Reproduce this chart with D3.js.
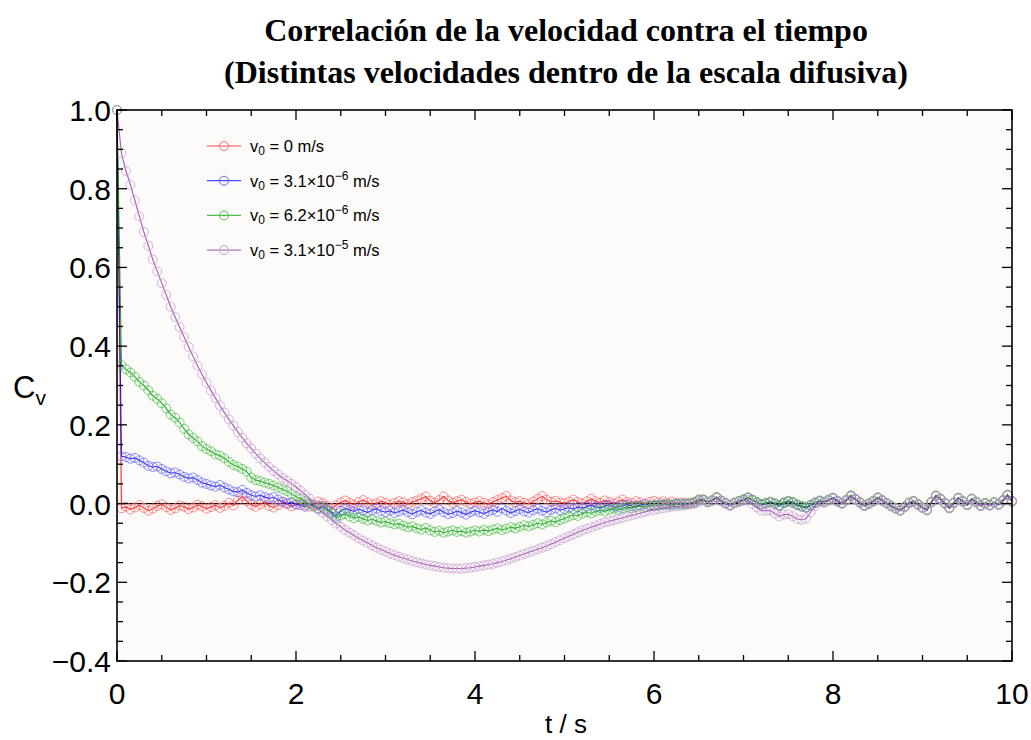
<!DOCTYPE html>
<html>
<head>
<meta charset="utf-8">
<script src="https://cdn.jsdelivr.net/npm/d3@7"></script>
<style>
  html, body { margin: 0; padding: 0; background: #ffffff; }
  svg { display: block; }
</style>
</head>
<body>
<svg id="chart" width="1031" height="740"></svg>
<script>
// Velocity autocorrelation C_v(t), sampled every 0.05 s from 0 to 10 s
const sampleStep = 0.05;

const seriesNames = ["v0_0", "v0_3.1e-6", "v0_6.2e-6", "v0_3.1e-5"];

const redValues = [1.0,
  -0.012, -0.008, -0.015, -0.010, -0.004, -0.011, -0.018, -0.013, -0.006, -0.002, -0.009, -0.016, -0.012, -0.005, -0.008, -0.014, -0.010, -0.003, -0.007, -0.013,
  -0.009, -0.004, -0.011, -0.006, 0.002, -0.005, 0.008, 0.018, 0.006, -0.003, -0.008, -0.002, 0.004, -0.006, -0.010, -0.004, 0.003, -0.002, -0.007, -0.003,
  0.002, -0.004, -0.008, -0.002, 0.005, 0.001, -0.006, -0.012, -0.004, 0.003, 0.008, 0.002, -0.003, 0.004, 0.009, 0.003, -0.002, 0.001, 0.006, 0.002,
  -0.003, 0.002, 0.006, 0.003, -0.002, 0.004, 0.008, 0.012, 0.018, 0.007, 0.002, 0.009, 0.018, 0.008, 0.002, 0.006, 0.010, 0.004, -0.001, 0.003,
  0.006, 0.002, -0.002, 0.004, 0.009, 0.014, 0.019, 0.008, 0.003, 0.006, 0.002, -0.001, 0.005, 0.012, 0.019, 0.010, 0.004, 0.007, 0.003, 0.001,
  0.005, 0.010, 0.004, 0.000, 0.006, 0.012, 0.006, 0.002, 0.008, 0.004, 0.000, 0.005, 0.010, 0.004, 0.001, 0.006, 0.003, -0.001, 0.004, 0.007,
  0.003, 0.006, 0.002, 0.005, 0.001, 0.003, 0.000, 0.002, 0.004, 0.011,
  0.010, 0.004, 0.008, 0.016, 0.007, 0.001, -0.004, 0.002, 0.006, 0.010,
  0.015, 0.009, 0.003, -0.002, 0.001, 0.004, 0.000, -0.005, 0.002, 0.006,
  0.003, -0.003, -0.007, -0.010, -0.004, 0.002, 0.007, 0.004, 0.009, 0.014,
  0.006, 0.001, 0.009, 0.020, 0.011, 0.003, -0.005, 0.000, 0.006, 0.015,
  0.008, 0.001, -0.006, -0.012, -0.017, -0.008, 0.002, 0.006, -0.002, -0.010,
  -0.016, 0.004, 0.020, 0.012, 0.001, -0.011, 0.002, 0.014, 0.006, -0.003,
  0.012, 0.004, -0.005, 0.001, -0.004, 0.003, -0.002, 0.008, 0.022, 0.006
];

const blueValues = [1.0,
  0.120, 0.118, 0.114, 0.116, 0.110, 0.104, 0.096, 0.093, 0.094, 0.088, 0.082, 0.077, 0.079, 0.074, 0.068, 0.064, 0.066, 0.060, 0.053, 0.050,
  0.046, 0.043, 0.047, 0.041, 0.036, 0.031, 0.029, 0.035, 0.027, 0.021, 0.018, 0.021, 0.017, 0.013, 0.016, 0.010, 0.005, 0.001, 0.003, -0.002,
  -0.004, -0.008, 0.001, -0.005, -0.012, -0.006, -0.014, -0.022, -0.033, -0.018, -0.012, -0.016, -0.020, -0.014, -0.018, -0.023, -0.017, -0.013, -0.019, -0.022,
  -0.018, -0.024, -0.020, -0.016, -0.022, -0.027, -0.021, -0.017, -0.023, -0.026, -0.020, -0.015, -0.022, -0.027, -0.024, -0.019, -0.023, -0.028, -0.022, -0.018,
  -0.022, -0.026, -0.020, -0.016, -0.021, -0.012, -0.018, -0.024, -0.019, -0.014, -0.020, -0.023, -0.017, -0.013, -0.018, -0.022, -0.016, -0.012, -0.017, -0.014,
  -0.010, -0.014, -0.009, -0.012, -0.008, -0.004, -0.009, -0.011, -0.006, -0.003, -0.008, -0.010, -0.005, -0.002, -0.006, -0.008, -0.004, -0.001, -0.005, -0.006,
  -0.003, -0.001, -0.004, -0.002, 0.000, -0.002, 0.001, -0.001, 0.002, 0.008,
  0.009, 0.003, 0.007, 0.015, 0.008, 0.000, -0.005, 0.001, 0.005, 0.009,
  0.014, 0.010, 0.002, -0.003, 0.000, 0.003, -0.001, -0.006, 0.001, 0.005,
  0.002, -0.004, -0.008, -0.011, -0.005, 0.001, 0.006, 0.003, 0.008, 0.015,
  0.007, 0.000, 0.008, 0.019, 0.012, 0.002, -0.006, -0.001, 0.005, 0.014,
  0.009, 0.000, -0.007, -0.013, -0.018, -0.009, 0.001, 0.005, -0.003, -0.011,
  -0.017, 0.003, 0.019, 0.013, 0.000, -0.012, 0.001, 0.015, 0.005, -0.004,
  0.011, 0.003, -0.006, 0.000, -0.005, 0.002, -0.003, 0.007, 0.021, 0.007
];

const greenValues = [1.0,
  0.352, 0.341, 0.333, 0.322, 0.309, 0.300, 0.288, 0.274, 0.266, 0.255, 0.242, 0.226, 0.218, 0.206, 0.190, 0.176, 0.167, 0.158, 0.146, 0.139,
  0.133, 0.125, 0.122, 0.115, 0.106, 0.098, 0.094, 0.088, 0.081, 0.066, 0.060, 0.057, 0.053, 0.050, 0.046, 0.041, 0.036, 0.032, 0.024, 0.018,
  0.012, 0.006, -0.002, -0.008, -0.014, -0.010, -0.018, -0.026, -0.038, -0.030, -0.027, -0.033, -0.037, -0.034, -0.039, -0.043, -0.040, -0.044, -0.048, -0.046,
  -0.050, -0.053, -0.051, -0.056, -0.060, -0.058, -0.063, -0.066, -0.062, -0.068, -0.072, -0.069, -0.074, -0.071, -0.068, -0.072, -0.070, -0.074, -0.071, -0.068,
  -0.071, -0.067, -0.070, -0.066, -0.063, -0.067, -0.064, -0.060, -0.063, -0.059, -0.055, -0.058, -0.054, -0.050, -0.053, -0.048, -0.044, -0.047, -0.042, -0.038,
  -0.033, -0.029, -0.031, -0.026, -0.022, -0.025, -0.020, -0.017, -0.020, -0.016, -0.013, -0.016, -0.012, -0.009, -0.012, -0.008, -0.006, -0.009, -0.005, -0.004,
  -0.006, -0.003, -0.001, -0.004, -0.002, 0.000, -0.002, 0.001, 0.003, 0.009,
  0.011, 0.005, 0.009, 0.017, 0.006, 0.002, -0.003, 0.003, 0.007, 0.011,
  0.016, 0.008, 0.004, -0.001, 0.002, 0.005, 0.001, -0.004, 0.003, 0.007,
  0.004, -0.002, -0.006, -0.009, -0.003, 0.003, 0.008, 0.005, 0.010, 0.013,
  0.005, 0.002, 0.010, 0.021, 0.010, 0.004, -0.004, 0.001, 0.007, 0.016,
  0.007, 0.002, -0.005, -0.011, -0.016, -0.007, 0.003, 0.007, -0.001, -0.009,
  -0.015, 0.005, 0.021, 0.011, 0.002, -0.010, 0.003, 0.013, 0.007, -0.002,
  0.013, 0.005, -0.004, 0.002, -0.003, 0.004, -0.001, 0.009, 0.023, 0.005
];

const purpleValues = [1.0,
  0.890, 0.845, 0.810, 0.770, 0.730, 0.690, 0.655, 0.620, 0.590, 0.560, 0.530, 0.500, 0.474, 0.448, 0.423, 0.398, 0.374, 0.350, 0.328, 0.307,
  0.287, 0.268, 0.249, 0.231, 0.214, 0.198, 0.182, 0.167, 0.153, 0.140, 0.127, 0.115, 0.104, 0.093, 0.083, 0.074, 0.065, 0.058, 0.050, 0.042,
  0.033, 0.023, 0.013, -0.006, -0.015, -0.024, -0.033, -0.042, -0.051, -0.059, -0.067, -0.074, -0.081, -0.088, -0.094, -0.100, -0.106, -0.112, -0.117, -0.122,
  -0.127, -0.131, -0.135, -0.139, -0.142, -0.146, -0.149, -0.152, -0.155, -0.157, -0.159, -0.161, -0.163, -0.164, -0.165, -0.165, -0.165, -0.164, -0.163, -0.161,
  -0.159, -0.157, -0.155, -0.153, -0.150, -0.147, -0.144, -0.140, -0.136, -0.132, -0.128, -0.124, -0.120, -0.116, -0.112, -0.108, -0.103, -0.098, -0.093, -0.088,
  -0.083, -0.078, -0.073, -0.068, -0.064, -0.060, -0.056, -0.052, -0.048, -0.045, -0.042, -0.039, -0.036, -0.033, -0.030, -0.027, -0.024, -0.021, -0.018, -0.016,
  -0.014, -0.012, -0.010, -0.008, -0.007, -0.006, -0.004, -0.002, 0.000, 0.004,
  0.008, 0.003, 0.007, 0.014, 0.006, 0.000, -0.005, 0.001, 0.004, 0.007,
  0.009, -0.001, -0.010, -0.018, -0.018, -0.018, -0.025, -0.033, -0.028, -0.027,
  -0.032, -0.039, -0.041, -0.038, -0.022, -0.006, 0.005, 0.003, 0.008, 0.013,
  0.005, 0.000, 0.008, 0.018, 0.010, 0.002, -0.006, -0.001, 0.005, 0.014,
  0.007, 0.000, -0.007, -0.013, -0.018, -0.009, 0.001, 0.005, -0.003, -0.011,
  -0.017, 0.003, 0.019, 0.011, 0.000, -0.012, 0.001, 0.013, 0.005, -0.004,
  0.011, 0.003, -0.006, 0.000, -0.005, 0.002, -0.003, 0.007, 0.021, 0.005
];

// legend text pieces: coefficient and power of ten of v0
const legendLabels = [
  { mant: " = 0", exp: null },
  { mant: " = 3.1\u00d710", exp: "\u22126" },
  { mant: " = 6.2\u00d710", exp: "\u22126" },
  { mant: " = 3.1\u00d710", exp: "\u22125" }
];

const xTickLabels = [0, 2, 4, 6, 8, 10];
const yTickLabels = [-0.4, -0.2, 0.0, 0.2, 0.4, 0.6, 0.8, 1.0];

const titleLines = [
  "Correlaci\u00f3n de la velocidad contra el tiempo",
  "(Distintas velocidades dentro de la escala difusiva)"
];

const seriesColors = ["#ff0000", "#0000ff", "#00a000", "#9a3fab"];
const circleColors = ["#ff6a6a", "#6a6aff", "#4cc04c", "#c79bd3"];

// ---- layout ----
const svg = d3.select("#chart");
const plot = { left: 117, right: 1012, top: 110, bottom: 661 };

const x = d3.scaleLinear().domain([0, 10]).range([plot.left, plot.right]);
const y = d3.scaleLinear().domain([-0.4, 1.0]).range([plot.bottom, plot.top]);

const allSeries = [redValues, blueValues, greenValues, purpleValues].map((vals, k) => ({
  name: seriesNames[k],
  color: seriesColors[k],
  circle: circleColors[k],
  points: vals.map((v, i) => ({ t: i * sampleStep, c: v }))
}));

// plot background
svg.append("rect")
  .attr("x", plot.left).attr("y", plot.top)
  .attr("width", plot.right - plot.left).attr("height", plot.bottom - plot.top)
  .attr("fill", "#fcfbf9");

// zero reference line
svg.append("line")
  .attr("x1", plot.left).attr("x2", plot.right)
  .attr("y1", y(0)).attr("y2", y(0))
  .attr("stroke", "#000").attr("stroke-width", 1.3);

const line = d3.line().x(d => x(d.t)).y(d => y(d.c));

const seriesG = svg.append("g");
allSeries.forEach(s => {
  const g = seriesG.append("g");
  g.append("path")
    .datum(s.points)
    .attr("d", line)
    .attr("fill", "none")
    .attr("stroke", s.color)
    .attr("stroke-opacity", 0.85)
    .attr("stroke-width", 1.1);
  g.selectAll("circle")
    .data(s.points)
    .join("circle")
    .attr("cx", d => x(d.t))
    .attr("cy", d => y(d.c))
    .attr("r", 4.5)
    .attr("fill", "none")
    .attr("stroke", s.circle)
    .attr("stroke-opacity", 0.75)
    .attr("stroke-width", 1);
});

// frame
svg.append("rect")
  .attr("x", plot.left).attr("y", plot.top)
  .attr("width", plot.right - plot.left).attr("height", plot.bottom - plot.top)
  .attr("fill", "none").attr("stroke", "#000").attr("stroke-width", 1.6);

// ticks on all four sides, pointing inward
const ticksG = svg.append("g").attr("stroke", "#000").attr("stroke-width", 1.3);
const majorLen = 10, minorLen = 6;
const xMinor = d3.range(0, 10.001, 0.5);
xMinor.forEach(t => {
  const major = Math.abs(t / 2 - Math.round(t / 2)) < 1e-6;
  const L = major ? majorLen : minorLen;
  ticksG.append("line").attr("x1", x(t)).attr("x2", x(t)).attr("y1", plot.bottom).attr("y2", plot.bottom - L);
  ticksG.append("line").attr("x1", x(t)).attr("x2", x(t)).attr("y1", plot.top).attr("y2", plot.top + L);
});
const yMinor = d3.range(-0.4, 1.0001, 0.05);
yMinor.forEach(v => {
  const major = Math.abs(v / 0.2 - Math.round(v / 0.2)) < 1e-6;
  const L = major ? majorLen : minorLen;
  ticksG.append("line").attr("x1", plot.left).attr("x2", plot.left + L).attr("y1", y(v)).attr("y2", y(v));
  ticksG.append("line").attr("x1", plot.right).attr("x2", plot.right - L).attr("y1", y(v)).attr("y2", y(v));
});

// tick labels
const tickFont = "'Liberation Sans', Arial, sans-serif";
const fmtNum = v => {
  const s = Math.abs(v).toFixed(1);
  return (v < -1e-9 ? "\u2212" : "") + s;
};
svg.append("g").selectAll("text")
  .data(xTickLabels).join("text")
  .attr("x", d => x(d)).attr("y", 704)
  .attr("text-anchor", "middle")
  .attr("font-family", tickFont).attr("font-size", 30)
  .text(d => d);
svg.append("g").selectAll("text")
  .data(yTickLabels).join("text")
  .attr("x", plot.left - 6).attr("y", d => y(d) + 11)
  .attr("text-anchor", "end")
  .attr("font-family", tickFont).attr("font-size", 30)
  .text(d => fmtNum(d));

// axis titles
svg.append("text")
  .attr("x", 566).attr("y", 733)
  .attr("text-anchor", "middle")
  .attr("font-family", tickFont).attr("font-size", 26)
  .text("t / s");
const yl = svg.append("text")
  .attr("x", 13).attr("y", 398)
  .attr("font-family", tickFont).attr("font-size", 31);
yl.append("tspan").text("C");
yl.append("tspan").attr("font-size", 21).attr("dy", 7).text("v");

// title
svg.append("g").selectAll("text")
  .data(titleLines).join("text")
  .attr("x", 566).attr("y", (d, i) => 41 + i * 42)
  .attr("text-anchor", "middle")
  .attr("font-family", "'Liberation Serif', 'Times New Roman', serif")
  .attr("font-weight", "bold").attr("font-size", 32)
  .text(d => d);

// legend
const legend = svg.append("g");
allSeries.forEach((s, k) => {
  const cy = 146 + k * 34.7;
  legend.append("line")
    .attr("x1", 207).attr("x2", 241).attr("y1", cy).attr("y2", cy)
    .attr("stroke", s.color).attr("stroke-opacity", 0.7).attr("stroke-width", 1.2);
  legend.append("circle")
    .attr("cx", 224).attr("cy", cy).attr("r", 4.5)
    .attr("fill", "none").attr("stroke", s.circle).attr("stroke-width", 1);
  const t = legend.append("text")
    .attr("x", 250).attr("y", cy + 6)
    .attr("font-family", tickFont).attr("font-size", 16.5);
  t.append("tspan").text("v");
  t.append("tspan").attr("font-size", 12).attr("dy", 3).text("0");
  t.append("tspan").attr("dy", -3).text(legendLabels[k].mant);
  if (legendLabels[k].exp) {
    t.append("tspan").attr("font-size", 12).attr("dy", -7).text(legendLabels[k].exp);
    t.append("tspan").attr("dy", 7).text(" m/s");
  } else {
    t.append("tspan").text(" m/s");
  }
});
</script>
</body>
</html>
